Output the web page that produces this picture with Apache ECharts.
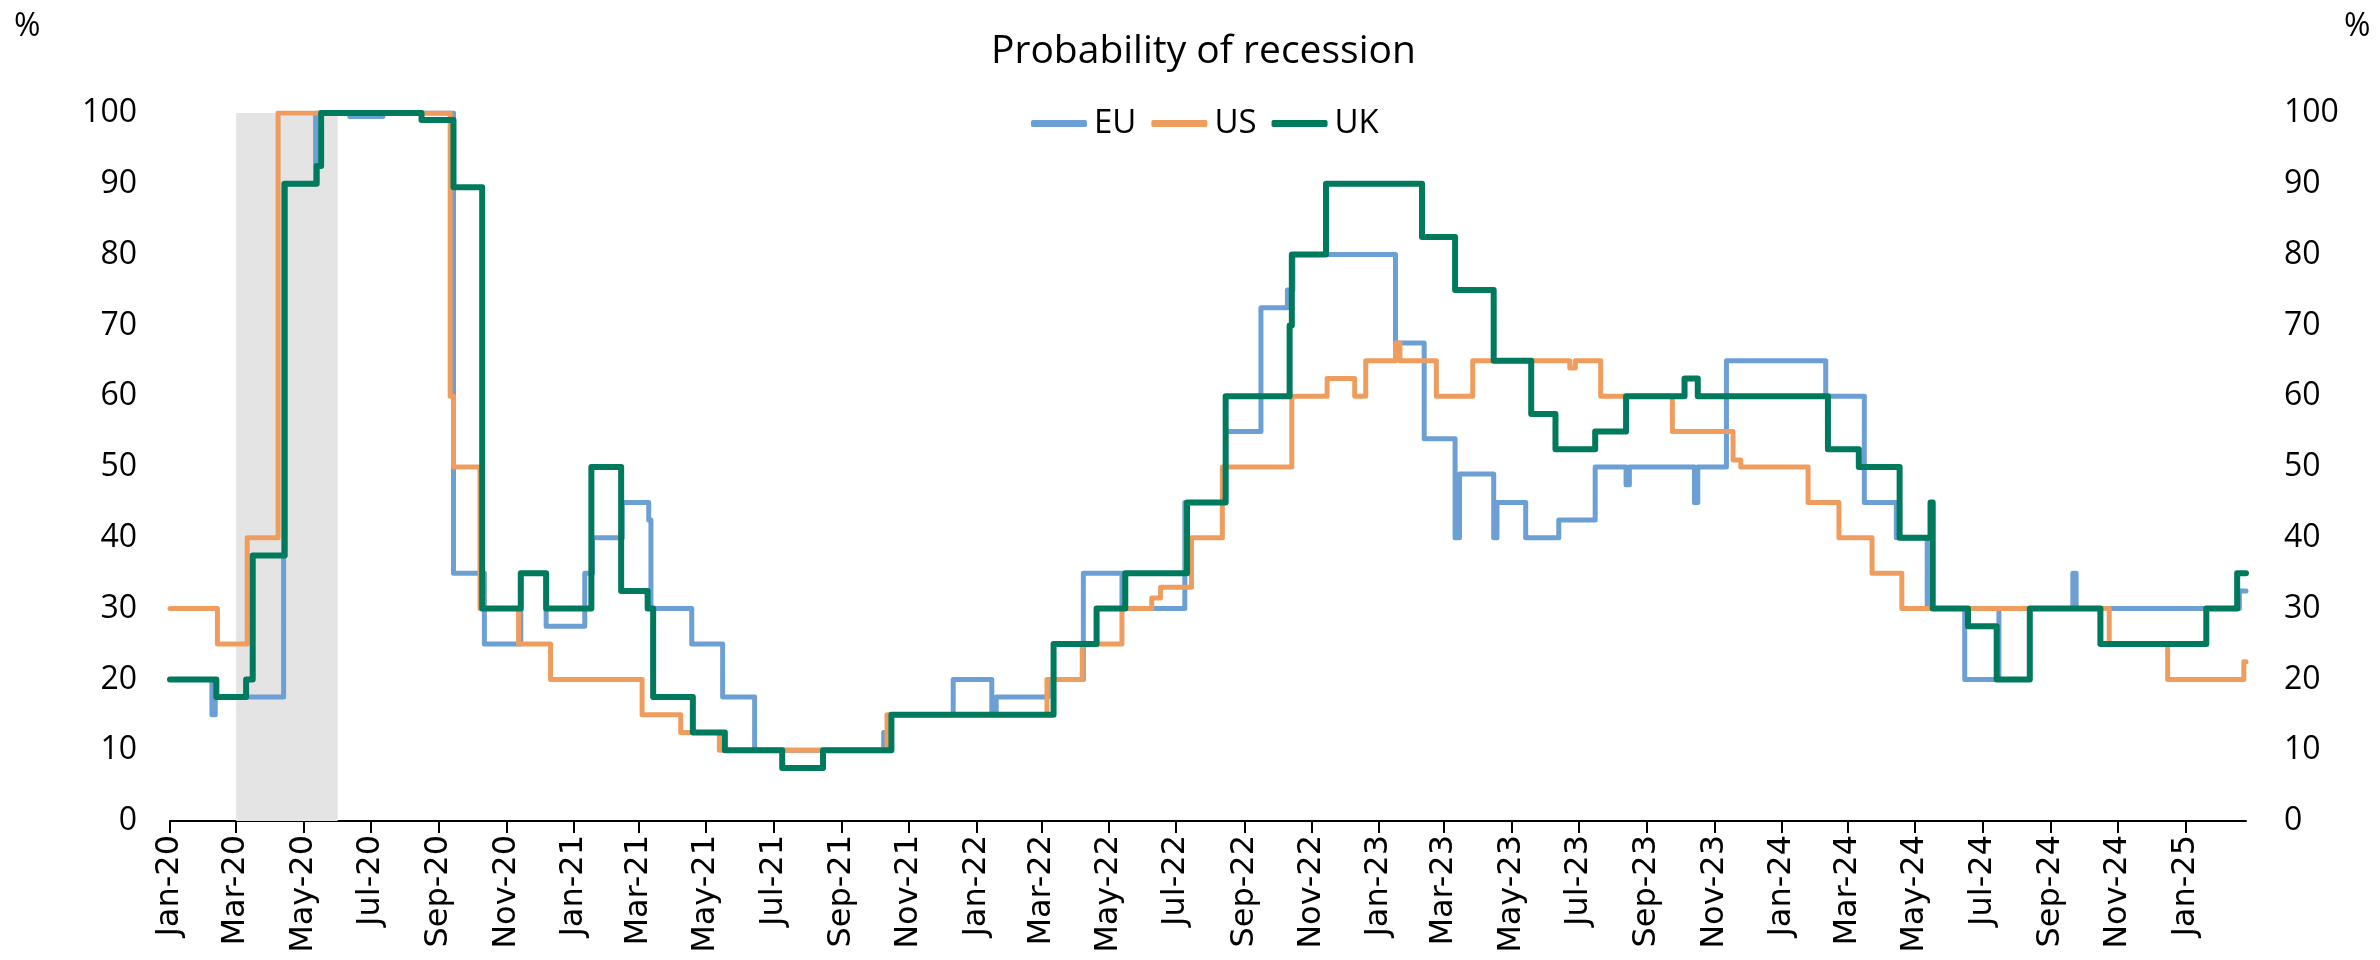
<!DOCTYPE html>
<html><head><meta charset="utf-8">
<script src="https://cdn.jsdelivr.net/npm/echarts@6/dist/echarts.min.js"></script>
<style>html,body{margin:0;padding:0;background:#fff}#c{width:2380px;height:960px}</style>
</head><body><div id="c"></div>
<script>
const chartTitle = 'Probability of recession';
const xMin = '2020-01-01';
const xMax = '2025-02-25';
const recession = ['2020-03-01', '2020-06-01'];
const xTicks = [
  '2020-01-01','2020-03-01','2020-05-01','2020-07-01','2020-09-01','2020-11-01',
  '2021-01-01','2021-03-01','2021-05-01','2021-07-01','2021-09-01','2021-11-01',
  '2022-01-01','2022-03-01','2022-05-01','2022-07-01','2022-09-01','2022-11-01',
  '2023-01-01','2023-03-01','2023-05-01','2023-07-01','2023-09-01','2023-11-01',
  '2024-01-01','2024-03-01','2024-05-01','2024-07-01','2024-09-01','2024-11-01',
  '2025-01-01'
];
const xTickLabels = [
  'Jan-20','Mar-20','May-20','Jul-20','Sep-20','Nov-20',
  'Jan-21','Mar-21','May-21','Jul-21','Sep-21','Nov-21',
  'Jan-22','Mar-22','May-22','Jul-22','Sep-22','Nov-22',
  'Jan-23','Mar-23','May-23','Jul-23','Sep-23','Nov-23',
  'Jan-24','Mar-24','May-24','Jul-24','Sep-24','Nov-24',
  'Jan-25'
];
const yMin = 0, yMax = 100, yStep = 10;

const euData = [
  ['2020-01-01',20],['2020-02-08',15],['2020-02-11',17.5],['2020-04-13',90],
  ['2020-05-12',100],['2020-06-12',99.5],['2020-07-12',100],['2020-09-14',35],
  ['2020-10-12',25],['2020-11-14',35],['2020-12-07',27.5],['2021-01-11',35],
  ['2021-01-18',40],['2021-02-14',45],['2021-03-10',42.5],['2021-03-12',30],
  ['2021-04-18',25],['2021-05-16',17.5],['2021-06-14',10],['2021-10-09',12.5],
  ['2021-10-14',15],['2021-12-11',20],['2022-01-15',15],['2022-01-19',17.5],
  ['2022-03-07',20],['2022-04-08',35],['2022-05-13',30],['2022-07-09',45],
  ['2022-08-15',55],['2022-09-16',72.5],['2022-10-10',75],['2022-10-15',80],
  ['2023-01-16',67.5],['2023-02-11',54],['2023-03-11',40],['2023-03-15',49],
  ['2023-04-15',40],['2023-04-18',45],['2023-05-14',40],['2023-06-13',42.5],
  ['2023-07-16',50],['2023-08-13',47.5],['2023-08-16',50],['2023-10-14',45],
  ['2023-10-17',50],['2023-11-12',65],['2024-02-10',60],['2024-03-16',45],
  ['2024-04-14',40],['2024-05-12',30],['2024-06-15',20],['2024-07-16',30],
  ['2024-09-21',35],['2024-09-24',30],['2025-02-19',32.5],['2025-02-25',32.5]
];
const usData = [
  ['2020-01-01',30],['2020-02-13',25],['2020-03-11',40],['2020-04-08',100],
  ['2020-09-11',60],['2020-09-14',50],['2020-10-08',30],['2020-11-12',25],
  ['2020-12-11',20],['2021-03-04',15],['2021-04-08',12.5],['2021-05-13',10],
  ['2021-10-12',15],['2022-03-06',20],['2022-04-07',25],['2022-05-13',30],
  ['2022-06-09',31.5],['2022-06-17',33],['2022-07-15',40],['2022-08-12',50],
  ['2022-10-14',60],['2022-11-15',62.5],['2022-12-10',60],['2022-12-20',65],
  ['2023-01-16',67.5],['2023-01-20',65],['2023-02-22',60],['2023-03-27',65],
  ['2023-06-23',64],['2023-06-28',65],['2023-07-21',60],['2023-09-24',55],
  ['2023-11-18',51],['2023-11-25',50],['2024-01-25',45],['2024-02-22',40],
  ['2024-03-23',35],['2024-04-19',30],['2024-10-24',25],['2024-12-16',20],
  ['2025-02-23',22.5],['2025-02-25',22.5]
];
const ukData = [
  ['2020-01-01',20],['2020-02-12',17.5],['2020-03-10',20],['2020-03-16',37.5],
  ['2020-04-14',90],['2020-05-13',92.5],['2020-05-17',100],['2020-08-16',99],
  ['2020-09-14',89.5],['2020-10-10',30],['2020-11-14',35],['2020-12-07',30],
  ['2021-01-17',50],['2021-02-13',32.5],['2021-03-09',30],['2021-03-14',17.5],
  ['2021-04-19',12.5],['2021-05-18',10],['2021-07-09',7.5],['2021-08-15',10],
  ['2021-10-16',15],['2022-03-12',25],['2022-04-20',30],['2022-05-16',35],
  ['2022-07-11',45],['2022-08-15',60],['2022-10-12',70],['2022-10-14',80],
  ['2022-11-14',90],['2023-02-09',82.5],['2023-03-11',75],['2023-04-15',65],
  ['2023-05-19',57.5],['2023-06-10',52.5],['2023-07-16',55],['2023-08-13',60],
  ['2023-10-05',62.5],['2023-10-17',60],['2024-02-12',52.5],['2024-03-11',50],
  ['2024-04-17',40],['2024-05-15',45],['2024-05-17',30],['2024-06-18',27.5],
  ['2024-07-14',20],['2024-08-13',30],['2024-10-16',25],['2025-01-20',30],
  ['2025-02-17',35],['2025-02-25',35]
];
const seriesNames = ['EU','US','UK'];
const seriesColors = ['#6CA0D4','#EF9D5F','#007A5D'];

const FONT = "'Open Sans', 'Noto Sans', sans-serif";
const toTime = s => echarts.time.parse(s).getTime();
const tickTimes = xTicks.map(toTime);
const labelMap = {};
tickTimes.forEach((t, i) => { labelMap[t] = xTickLabels[i]; });
const toPoints = arr => arr.map(d => [toTime(d[0]), d[1]]);

const chart = echarts.init(document.getElementById('c'), null, {renderer: 'canvas'});
const mkSeries = (name, data, color, width, extra) => Object.assign({
  name, type: 'line', data: toPoints(data), step: 'end', showSymbol: false, symbol: 'none',
  yAxisIndex: 0, xAxisIndex: 0,
  lineStyle: {color, width, join: 'round', cap: 'round'},
  itemStyle: {color}, animation: false
}, extra || {});

chart.setOption({
  animation: false,
  backgroundColor: '#ffffff',
  grid: {left: 170, right: 134, top: 113, bottom: 139, containLabel: false},
  graphic: [
    {type: 'text', left: 991, top: 32, style: {text: chartTitle, font: "39px " + FONT, fill: '#000'}},
    {type: 'text', left: 14, top: 11, style: {text: '%', font: "32px " + FONT, fill: '#000'}},
    {type: 'text', left: 2344, top: 11, style: {text: '%', font: "32px " + FONT, fill: '#000'}}
  ],
  legend: {
    data: seriesNames, left: 1031, top: 107, orient: 'horizontal',
    icon: 'roundRect', itemWidth: 56, itemHeight: 7, itemGap: 15, padding: 0,
    textStyle: {fontFamily: FONT, fontSize: 33, color: '#000', padding: [0, 0, 0, 2]}
  },
  xAxis: {
    type: 'value', min: toTime(xMin), max: toTime(xMax),
    axisLine: {show: true, lineStyle: {color: '#000', width: 2}},
    axisTick: {show: true, length: 12, lineStyle: {color: '#000', width: 2}, customValues: tickTimes},
    axisLabel: {
      customValues: tickTimes, rotate: 90, margin: 14,
      fontFamily: "'DejaVu Sans', sans-serif", fontSize: 32, color: '#000',
      formatter: v => labelMap[v] || ''
    },
    splitLine: {show: false}
  },
  yAxis: [
    {type: 'value', min: yMin, max: yMax, interval: yStep, position: 'left',
     axisLine: {show: false}, axisTick: {show: false}, splitLine: {show: false},
     axisLabel: {fontFamily: FONT, fontSize: 32, color: '#000', margin: 33, padding: [6, 0, 0, 0]}},
    {type: 'value', min: yMin, max: yMax, interval: yStep, position: 'right',
     axisLine: {show: false}, axisTick: {show: false}, splitLine: {show: false},
     axisLabel: {fontFamily: FONT, fontSize: 32, color: '#000', margin: 38, padding: [6, 0, 0, 0]}}
  ],
  series: [
    mkSeries('EU', euData, seriesColors[0], 5, {
      markArea: {silent: true, itemStyle: {color: '#E4E4E4'},
        data: [[{xAxis: toTime(recession[0])}, {xAxis: toTime(recession[1])}]]}
    }),
    mkSeries('US', usData, seriesColors[1], 5),
    mkSeries('UK', ukData, seriesColors[2], 6)
  ]
});
</script></body></html>
